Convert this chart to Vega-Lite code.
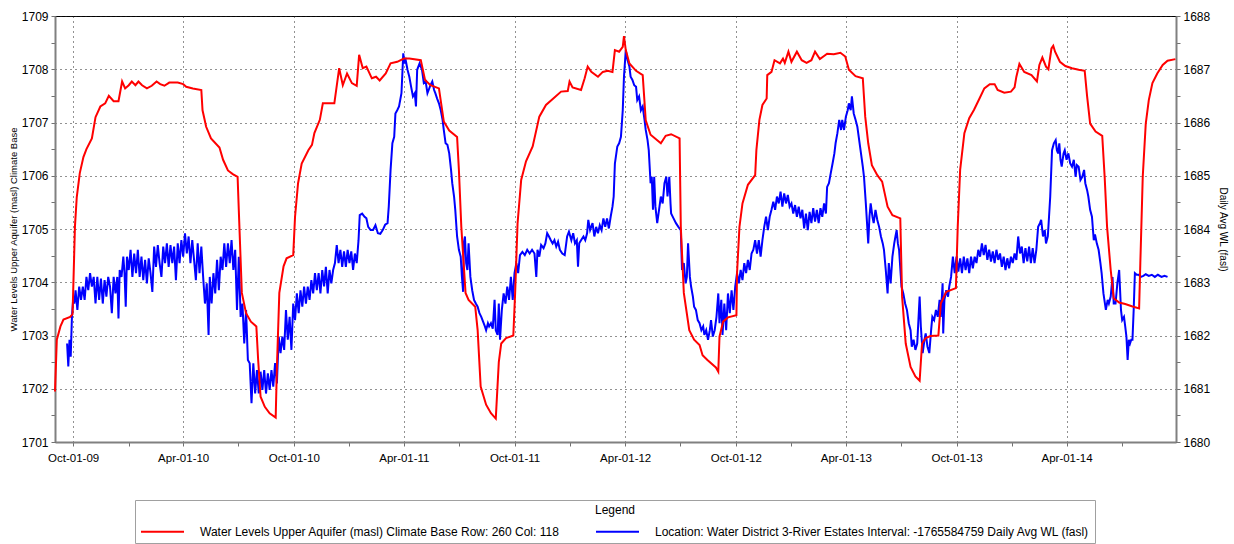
{
"$schema": "https://vega.github.io/schema/vega-lite/v6.json",
"width": 1121, "height": 426,
"autosize": {"type": "none"},
"padding": {"left": 55, "top": 16, "right": 58, "bottom": 102},
"background": "white",
"config": {
 "font": "Liberation Sans",
 "view": {"stroke": "#000", "strokeWidth": 1},
 "axis": {"labelColor": "#000", "labelFont": "Liberation Sans", "labelFontSize": 12, "tickColor": "#707070", "domainColor": "#808080", "domainWidth": 2, "gridColor": "#222", "gridDash": [1, 4], "gridWidth": 1, "titleFontWeight": "normal", "titleColor": "#000", "titleFont": "Liberation Sans", "tickSize": 4, "labelOverlap": false, "labelFlush": false}
},
"datasets": {
"red": [
{"d":"2009-09-01","v":1701.95},{"d":"2009-09-04","v":1702.92},{"d":"2009-09-10","v":1703.17},{"d":"2009-09-15","v":1703.30},{"d":"2009-09-26","v":1703.35},{"d":"2009-09-30","v":1703.40},{"d":"2009-10-01","v":1703.8},{"d":"2009-10-04","v":1705.05},{"d":"2009-10-07","v":1705.60},{"d":"2009-10-12","v":1706.05},{"d":"2009-10-18","v":1706.35},{"d":"2009-10-23","v":1706.50},{"d":"2009-11-01","v":1706.70},{"d":"2009-11-07","v":1707.10},{"d":"2009-11-15","v":1707.30},{"d":"2009-11-23","v":1707.36},{"d":"2009-11-29","v":1707.50},{"d":"2009-12-07","v":1707.40},{"d":"2009-12-15","v":1707.40},{"d":"2009-12-21","v":1707.77},{"d":"2009-12-26","v":1707.64},
{"d":"2010-01-01","v":1707.70},{"d":"2010-01-06","v":1707.77},{"d":"2010-01-12","v":1707.70},{"d":"2010-01-17","v":1707.77},{"d":"2010-01-23","v":1707.70},{"d":"2010-01-31","v":1707.64},{"d":"2010-02-08","v":1707.69},{"d":"2010-02-16","v":1707.77},{"d":"2010-02-22","v":1707.72},{"d":"2010-03-01","v":1707.69},{"d":"2010-03-09","v":1707.75},{"d":"2010-03-23","v":1707.75},{"d":"2010-04-01","v":1707.72},{"d":"2010-04-06","v":1707.67},{"d":"2010-04-17","v":1707.64},{"d":"2010-05-01","v":1707.61},{"d":"2010-05-03","v":1707.23},{"d":"2010-05-09","v":1706.92},{"d":"2010-05-17","v":1706.70},{"d":"2010-05-31","v":1706.53},{"d":"2010-06-06","v":1706.30},{"d":"2010-06-14","v":1706.10},{"d":"2010-06-22","v":1706.03},{"d":"2010-06-30","v":1705.98},{"d":"2010-07-02","v":1705.35},{"d":"2010-07-04","v":1704.73},{"d":"2010-07-07","v":1703.80},{"d":"2010-07-14","v":1703.42},{"d":"2010-07-22","v":1703.26},{"d":"2010-07-31","v":1703.17},{"d":"2010-08-03","v":1702.54},{"d":"2010-08-07","v":1701.85},{"d":"2010-08-14","v":1701.66},{"d":"2010-08-22","v":1701.54},{"d":"2010-09-01","v":1701.46},{"d":"2010-09-03","v":1702.4},{"d":"2010-09-07","v":1703.8},{"d":"2010-09-14","v":1704.30},{"d":"2010-09-19","v":1704.45},{"d":"2010-09-30","v":1704.51},{"d":"2010-10-03","v":1705.23},{"d":"2010-10-08","v":1705.86},{"d":"2010-10-14","v":1706.23},{"d":"2010-10-25","v":1706.48},{"d":"2010-10-31","v":1706.58},{"d":"2010-11-04","v":1706.80},{"d":"2010-11-13","v":1707.05},{"d":"2010-11-18","v":1707.36},{"d":"2010-12-07","v":1707.36},{"d":"2010-12-15","v":1708.02},{"d":"2010-12-21","v":1707.70},{"d":"2010-12-28","v":1707.92},
{"d":"2011-01-05","v":1707.74},{"d":"2011-01-13","v":1707.69},{"d":"2011-01-17","v":1708.27},{"d":"2011-01-23","v":1708.02},{"d":"2011-01-29","v":1708.05},{"d":"2011-02-07","v":1707.83},{"d":"2011-02-14","v":1707.86},{"d":"2011-02-20","v":1707.79},{"d":"2011-03-02","v":1707.92},{"d":"2011-03-10","v":1708.11},{"d":"2011-03-21","v":1708.14},{"d":"2011-04-01","v":1708.20},{"d":"2011-04-10","v":1708.20},{"d":"2011-04-29","v":1708.17},{"d":"2011-05-06","v":1707.80},{"d":"2011-05-15","v":1707.70},{"d":"2011-05-29","v":1707.64},{"d":"2011-06-06","v":1707.02},{"d":"2011-06-15","v":1706.85},{"d":"2011-06-28","v":1706.73},{"d":"2011-07-01","v":1706.11},{"d":"2011-07-05","v":1705.04},{"d":"2011-07-12","v":1703.80},{"d":"2011-07-17","v":1703.67},{"d":"2011-07-28","v":1703.54},{"d":"2011-08-01","v":1703.10},{"d":"2011-08-06","v":1702.04},{"d":"2011-08-15","v":1701.70},{"d":"2011-08-23","v":1701.54},{"d":"2011-08-31","v":1701.44},{"d":"2011-09-05","v":1702.5},{"d":"2011-09-09","v":1702.85},{"d":"2011-09-17","v":1702.95},{"d":"2011-09-29","v":1703.00},{"d":"2011-10-02","v":1703.80},{"d":"2011-10-06","v":1705.10},{"d":"2011-10-12","v":1705.92},{"d":"2011-10-20","v":1706.27},{"d":"2011-10-31","v":1706.55},{"d":"2011-11-11","v":1707.11},{"d":"2011-11-22","v":1707.33},{"d":"2011-12-06","v":1707.47},{"d":"2011-12-17","v":1707.58},{"d":"2011-12-28","v":1707.59},{"d":"2011-12-31","v":1707.77},
{"d":"2012-01-05","v":1707.66},{"d":"2012-01-19","v":1707.61},{"d":"2012-01-25","v":1707.83},{"d":"2012-01-30","v":1708.05},{"d":"2012-02-05","v":1707.95},{"d":"2012-02-16","v":1707.86},{"d":"2012-02-24","v":1707.95},{"d":"2012-03-03","v":1707.97},{"d":"2012-03-11","v":1707.95},{"d":"2012-03-15","v":1708.36},{"d":"2012-03-22","v":1708.33},{"d":"2012-03-28","v":1708.42},{"d":"2012-03-30","v":1708.62},{"d":"2012-04-02","v":1708.36},{"d":"2012-04-08","v":1708.11},{"d":"2012-04-19","v":1707.97},{"d":"2012-04-30","v":1707.89},{"d":"2012-05-05","v":1707.04},{"d":"2012-05-13","v":1706.77},{"d":"2012-05-30","v":1706.61},{"d":"2012-06-07","v":1706.75},{"d":"2012-06-16","v":1706.78},{"d":"2012-06-30","v":1706.70},{"d":"2012-07-02","v":1705.04},{"d":"2012-07-07","v":1703.80},{"d":"2012-07-16","v":1703.10},{"d":"2012-07-24","v":1702.92},{"d":"2012-08-02","v":1702.82},{"d":"2012-08-07","v":1702.63},{"d":"2012-08-15","v":1702.54},{"d":"2012-08-29","v":1702.40},{"d":"2012-09-02","v":1702.32},{"d":"2012-09-04","v":1702.98},{"d":"2012-09-10","v":1703.26},{"d":"2012-09-18","v":1703.34},{"d":"2012-10-02","v":1703.38},{"d":"2012-10-03","v":1704.17},{"d":"2012-10-07","v":1705.04},{"d":"2012-10-12","v":1705.48},{"d":"2012-10-21","v":1705.83},{"d":"2012-11-02","v":1706.01},{"d":"2012-11-04","v":1706.48},{"d":"2012-11-09","v":1707.05},{"d":"2012-11-14","v":1707.33},{"d":"2012-11-21","v":1707.45},{"d":"2012-11-22","v":1707.89},{"d":"2012-11-29","v":1707.95},{"d":"2012-12-04","v":1708.17},{"d":"2012-12-13","v":1708.11},{"d":"2012-12-18","v":1708.20},{"d":"2012-12-21","v":1708.12},{"d":"2012-12-27","v":1708.33},
{"d":"2013-01-01","v":1708.14},{"d":"2013-01-10","v":1708.33},{"d":"2013-01-18","v":1708.17},{"d":"2013-01-26","v":1708.12},{"d":"2013-02-03","v":1708.17},{"d":"2013-02-09","v":1708.33},{"d":"2013-02-17","v":1708.19},{"d":"2013-03-01","v":1708.29},{"d":"2013-03-12","v":1708.28},{"d":"2013-03-23","v":1708.31},{"d":"2013-03-31","v":1708.24},{"d":"2013-04-06","v":1707.99},{"d":"2013-04-17","v":1707.87},{"d":"2013-04-29","v":1707.83},{"d":"2013-05-03","v":1707.11},{"d":"2013-05-08","v":1706.61},{"d":"2013-05-14","v":1706.20},{"d":"2013-05-23","v":1706.01},{"d":"2013-05-31","v":1705.89},{"d":"2013-06-09","v":1705.42},{"d":"2013-06-17","v":1705.26},{"d":"2013-06-30","v":1705.20},{"d":"2013-07-03","v":1703.73},{"d":"2013-07-09","v":1702.85},{"d":"2013-07-17","v":1702.41},{"d":"2013-07-25","v":1702.23},{"d":"2013-08-01","v":1702.15},{"d":"2013-08-05","v":1702.85},{"d":"2013-08-11","v":1702.95},{"d":"2013-08-19","v":1702.99},{"d":"2013-09-01","v":1703.00},{"d":"2013-09-05","v":1703.60},{"d":"2013-09-14","v":1703.82},{"d":"2013-09-30","v":1703.89},{"d":"2013-10-03","v":1705.04},{"d":"2013-10-07","v":1706.11},{"d":"2013-10-14","v":1706.80},{"d":"2013-10-22","v":1707.08},{"d":"2013-10-30","v":1707.24},{"d":"2013-11-08","v":1707.45},{"d":"2013-11-16","v":1707.64},{"d":"2013-11-25","v":1707.72},{"d":"2013-12-03","v":1707.72},{"d":"2013-12-08","v":1707.61},{"d":"2013-12-19","v":1707.56},{"d":"2013-12-30","v":1707.58},
{"d":"2014-01-05","v":1707.66},{"d":"2014-01-08","v":1707.86},{"d":"2014-01-13","v":1708.10},{"d":"2014-01-21","v":1707.95},{"d":"2014-02-02","v":1707.89},{"d":"2014-02-11","v":1707.77},{"d":"2014-02-15","v":1708.08},{"d":"2014-02-20","v":1708.22},{"d":"2014-02-26","v":1708.05},{"d":"2014-03-02","v":1708.00},{"d":"2014-03-07","v":1708.39},{"d":"2014-03-10","v":1708.44},{"d":"2014-03-13","v":1708.33},{"d":"2014-03-21","v":1708.14},{"d":"2014-03-30","v":1708.06},{"d":"2014-04-10","v":1708.02},{"d":"2014-04-21","v":1707.99},{"d":"2014-05-01","v":1707.97},{"d":"2014-05-05","v":1707.49},{"d":"2014-05-10","v":1706.98},{"d":"2014-05-19","v":1706.83},{"d":"2014-05-30","v":1706.75},{"d":"2014-06-03","v":1705.98},{"d":"2014-06-07","v":1705.04},{"d":"2014-06-13","v":1704.23},{"d":"2014-06-18","v":1703.70},{"d":"2014-06-27","v":1703.62},{"d":"2014-07-07","v":1703.59},{"d":"2014-07-18","v":1703.55},{"d":"2014-07-30","v":1703.51},{"d":"2014-08-01","v":1704.36},{"d":"2014-08-05","v":1705.98},{"d":"2014-08-10","v":1706.98},{"d":"2014-08-15","v":1707.42},{"d":"2014-08-21","v":1707.74},{"d":"2014-08-29","v":1707.92},{"d":"2014-09-07","v":1708.08},{"d":"2014-09-15","v":1708.16},{"d":"2014-09-28","v":1708.19}
],
"blue": [
{"d":"2009-09-21","v":1681.85},{"d":"2009-09-23","v":1681.42},{"d":"2009-09-25","v":1681.92},{"d":"2009-09-27","v":1681.60},{"d":"2009-09-29","v":1682.35},{"d":"2009-10-01","v":1682.67},{"d":"2009-10-03","v":1682.60},{"d":"2009-10-05","v":1682.85},{"d":"2009-10-08","v":1682.48},{"d":"2009-10-11","v":1682.92},{"d":"2009-10-14","v":1682.67},{"d":"2009-10-17","v":1682.92},{"d":"2009-10-20","v":1682.67},{"d":"2009-10-23","v":1683.10},{"d":"2009-10-26","v":1682.85},{"d":"2009-10-29","v":1683.17},{"d":"2009-11-01","v":1682.92},{"d":"2009-11-04","v":1683.10},{"d":"2009-11-07","v":1682.60},{"d":"2009-11-10","v":1683.10},{"d":"2009-11-13","v":1682.67},{"d":"2009-11-16","v":1683.07},{"d":"2009-11-19","v":1682.60},{"d":"2009-11-22","v":1683.04},{"d":"2009-11-25","v":1682.73},{"d":"2009-11-28","v":1683.10},{"d":"2009-12-01","v":1682.92},{"d":"2009-12-04","v":1682.42},{"d":"2009-12-07","v":1683.10},{"d":"2009-12-10","v":1682.79},{"d":"2009-12-13","v":1683.10},{"d":"2009-12-15","v":1682.32},{"d":"2009-12-17","v":1683.23},{"d":"2009-12-20","v":1683.10},{"d":"2009-12-23","v":1683.48},{"d":"2009-12-25","v":1683.17},{"d":"2009-12-27","v":1682.54},{"d":"2009-12-29","v":1683.48},
{"d":"2010-01-01","v":1683.23},{"d":"2010-01-04","v":1683.61},{"d":"2010-01-07","v":1683.10},{"d":"2010-01-10","v":1683.54},{"d":"2010-01-13","v":1683.17},{"d":"2010-01-16","v":1683.61},{"d":"2010-01-19","v":1683.10},{"d":"2010-01-22","v":1683.48},{"d":"2010-01-25","v":1683.04},{"d":"2010-01-28","v":1683.42},{"d":"2010-01-31","v":1682.98},{"d":"2010-02-03","v":1683.45},{"d":"2010-02-06","v":1683.17},{"d":"2010-02-09","v":1682.82},{"d":"2010-02-12","v":1683.67},{"d":"2010-02-15","v":1683.29},{"d":"2010-02-18","v":1683.70},{"d":"2010-02-21","v":1683.36},{"d":"2010-02-24","v":1683.10},{"d":"2010-02-27","v":1683.67},{"d":"2010-03-02","v":1683.36},{"d":"2010-03-05","v":1683.73},{"d":"2010-03-08","v":1683.29},{"d":"2010-03-11","v":1683.70},{"d":"2010-03-14","v":1683.36},{"d":"2010-03-17","v":1683.67},{"d":"2010-03-20","v":1683.04},{"d":"2010-03-23","v":1683.73},{"d":"2010-03-26","v":1683.36},{"d":"2010-03-29","v":1683.79},{"d":"2010-04-01","v":1683.48},{"d":"2010-04-04","v":1683.92},{"d":"2010-04-07","v":1683.54},{"d":"2010-04-10","v":1683.86},{"d":"2010-04-13","v":1683.36},{"d":"2010-04-16","v":1683.79},{"d":"2010-04-19","v":1683.42},{"d":"2010-04-22","v":1683.04},{"d":"2010-04-25","v":1683.73},{"d":"2010-04-28","v":1683.17},{"d":"2010-05-01","v":1683.67},{"d":"2010-05-04","v":1683.10},{"d":"2010-05-07","v":1682.60},{"d":"2010-05-10","v":1682.98},{"d":"2010-05-13","v":1682.01},{"d":"2010-05-15","v":1683.10},{"d":"2010-05-18","v":1682.60},{"d":"2010-05-21","v":1683.17},{"d":"2010-05-24","v":1682.79},{"d":"2010-05-27","v":1683.42},{"d":"2010-05-30","v":1682.85},{"d":"2010-06-02","v":1683.48},{"d":"2010-06-05","v":1683.23},{"d":"2010-06-08","v":1683.73},{"d":"2010-06-11","v":1683.29},{"d":"2010-06-14","v":1683.73},{"d":"2010-06-17","v":1683.36},{"d":"2010-06-20","v":1683.79},{"d":"2010-06-23","v":1683.23},{"d":"2010-06-26","v":1683.61},{"d":"2010-06-29","v":1682.48},{"d":"2010-07-02","v":1683.48},{"d":"2010-07-05","v":1682.35},{"d":"2010-07-08","v":1682.60},{"d":"2010-07-11","v":1681.85},{"d":"2010-07-14","v":1682.48},{"d":"2010-07-17","v":1681.54},{"d":"2010-07-20","v":1681.48},{"d":"2010-07-23","v":1680.73},{"d":"2010-07-26","v":1681.48},{"d":"2010-07-29","v":1680.91},{"d":"2010-08-01","v":1681.35},{"d":"2010-08-04","v":1680.91},{"d":"2010-08-07","v":1681.32},{"d":"2010-08-10","v":1680.98},{"d":"2010-08-13","v":1681.35},{"d":"2010-08-16","v":1680.91},{"d":"2010-08-19","v":1681.29},{"d":"2010-08-22","v":1680.98},{"d":"2010-08-25","v":1681.35},{"d":"2010-08-28","v":1681.04},{"d":"2010-08-31","v":1681.48},{"d":"2010-09-03","v":1681.10},{"d":"2010-09-06","v":1681.98},{"d":"2010-09-09","v":1681.67},{"d":"2010-09-12","v":1681.98},{"d":"2010-09-15","v":1681.73},{"d":"2010-09-18","v":1682.48},{"d":"2010-09-21","v":1681.92},{"d":"2010-09-24","v":1682.35},{"d":"2010-09-27","v":1681.73},{"d":"2010-09-30","v":1682.60},{"d":"2010-10-03","v":1682.29},{"d":"2010-10-06","v":1682.79},{"d":"2010-10-09","v":1682.42},{"d":"2010-10-12","v":1682.85},{"d":"2010-10-15","v":1682.54},{"d":"2010-10-18","v":1682.92},{"d":"2010-10-21","v":1682.60},{"d":"2010-10-24","v":1682.92},{"d":"2010-10-27","v":1682.67},{"d":"2010-10-30","v":1683.04},{"d":"2010-11-02","v":1682.79},{"d":"2010-11-05","v":1683.17},{"d":"2010-11-08","v":1682.85},{"d":"2010-11-11","v":1683.17},{"d":"2010-11-14","v":1682.79},{"d":"2010-11-17","v":1683.23},{"d":"2010-11-20","v":1682.92},{"d":"2010-11-23","v":1683.29},{"d":"2010-11-26","v":1682.79},{"d":"2010-11-29","v":1683.23},{"d":"2010-12-02","v":1682.98},{"d":"2010-12-05","v":1683.23},{"d":"2010-12-08","v":1683.36},{"d":"2010-12-11","v":1683.70},{"d":"2010-12-14","v":1683.36},{"d":"2010-12-17","v":1683.61},{"d":"2010-12-20","v":1683.29},{"d":"2010-12-23","v":1683.58},{"d":"2010-12-26","v":1683.29},{"d":"2010-12-29","v":1683.61},
{"d":"2011-01-01","v":1683.36},{"d":"2011-01-04","v":1683.58},{"d":"2011-01-07","v":1683.23},{"d":"2011-01-10","v":1683.54},{"d":"2011-01-13","v":1683.36},{"d":"2011-01-16","v":1683.79},{"d":"2011-01-18","v":1684.26},{"d":"2011-01-22","v":1684.29},{"d":"2011-01-26","v":1684.23},{"d":"2011-01-29","v":1684.20},{"d":"2011-02-01","v":1684.04},{"d":"2011-02-05","v":1683.98},{"d":"2011-02-09","v":1683.98},{"d":"2011-02-13","v":1684.07},{"d":"2011-02-17","v":1683.92},{"d":"2011-02-21","v":1683.91},{"d":"2011-02-25","v":1683.98},{"d":"2011-03-01","v":1684.08},{"d":"2011-03-05","v":1684.11},{"d":"2011-03-07","v":1684.42},{"d":"2011-03-10","v":1685.11},{"d":"2011-03-13","v":1685.61},{"d":"2011-03-16","v":1685.73},{"d":"2011-03-18","v":1686.17},{"d":"2011-03-21","v":1686.23},{"d":"2011-03-24","v":1686.30},{"d":"2011-03-28","v":1686.55},{"d":"2011-03-31","v":1687.30},{"d":"2011-04-02","v":1687.11},{"d":"2011-04-04","v":1687.17},{"d":"2011-04-07","v":1686.99},{"d":"2011-04-10","v":1686.86},{"d":"2011-04-13","v":1686.67},{"d":"2011-04-16","v":1686.49},{"d":"2011-04-19","v":1686.55},{"d":"2011-04-21","v":1686.30},{"d":"2011-04-23","v":1686.99},{"d":"2011-04-27","v":1687.11},{"d":"2011-05-01","v":1686.99},{"d":"2011-05-04","v":1686.74},{"d":"2011-05-07","v":1686.77},{"d":"2011-05-10","v":1686.55},{"d":"2011-05-12","v":1686.61},{"d":"2011-05-15","v":1686.70},{"d":"2011-05-18","v":1686.77},{"d":"2011-05-21","v":1686.61},{"d":"2011-05-23","v":1686.55},{"d":"2011-05-26","v":1686.45},{"d":"2011-05-29","v":1686.36},{"d":"2011-06-01","v":1686.23},{"d":"2011-06-04","v":1686.05},{"d":"2011-06-06","v":1685.86},{"d":"2011-06-09","v":1685.61},{"d":"2011-06-12","v":1685.58},{"d":"2011-06-15","v":1685.42},{"d":"2011-06-18","v":1685.11},{"d":"2011-06-20","v":1684.86},{"d":"2011-06-23","v":1684.61},{"d":"2011-06-25","v":1684.36},{"d":"2011-06-28","v":1683.86},{"d":"2011-07-01","v":1683.61},{"d":"2011-07-04","v":1683.48},{"d":"2011-07-06","v":1683.10},{"d":"2011-07-08","v":1682.82},{"d":"2011-07-09","v":1683.73},{"d":"2011-07-11","v":1683.86},{"d":"2011-07-13","v":1683.36},{"d":"2011-07-15","v":1683.23},{"d":"2011-07-17","v":1683.73},{"d":"2011-07-20","v":1683.10},{"d":"2011-07-23","v":1682.85},{"d":"2011-07-26","v":1682.67},{"d":"2011-07-29","v":1682.60},{"d":"2011-08-01","v":1682.54},{"d":"2011-08-04","v":1682.42},{"d":"2011-08-07","v":1682.35},{"d":"2011-08-10","v":1682.26},{"d":"2011-08-13","v":1682.17},{"d":"2011-08-15","v":1682.10},{"d":"2011-08-18","v":1682.23},{"d":"2011-08-20","v":1682.17},{"d":"2011-08-23","v":1682.23},{"d":"2011-08-26","v":1682.13},{"d":"2011-08-29","v":1682.67},{"d":"2011-08-31","v":1682.10},{"d":"2011-09-03","v":1682.01},{"d":"2011-09-05","v":1682.60},{"d":"2011-09-07","v":1681.92},{"d":"2011-09-10","v":1682.48},{"d":"2011-09-13","v":1682.79},{"d":"2011-09-16","v":1682.60},{"d":"2011-09-19","v":1682.92},{"d":"2011-09-22","v":1682.67},{"d":"2011-09-25","v":1683.10},{"d":"2011-09-28","v":1682.67},{"d":"2011-10-01","v":1683.17},{"d":"2011-10-04","v":1683.36},{"d":"2011-10-07","v":1683.17},{"d":"2011-10-10","v":1683.51},{"d":"2011-10-14","v":1683.57},{"d":"2011-10-18","v":1683.51},{"d":"2011-10-22","v":1683.61},{"d":"2011-10-26","v":1683.54},{"d":"2011-10-30","v":1683.61},{"d":"2011-11-03","v":1683.54},{"d":"2011-11-06","v":1683.10},{"d":"2011-11-08","v":1683.61},{"d":"2011-11-11","v":1683.48},{"d":"2011-11-14","v":1683.70},{"d":"2011-11-18","v":1683.64},{"d":"2011-11-21","v":1683.73},{"d":"2011-11-24","v":1683.92},{"d":"2011-11-27","v":1683.86},{"d":"2011-11-30","v":1683.79},{"d":"2011-12-03","v":1683.73},{"d":"2011-12-06","v":1683.79},{"d":"2011-12-09","v":1683.67},{"d":"2011-12-12","v":1683.76},{"d":"2011-12-15","v":1683.61},{"d":"2011-12-19","v":1683.54},{"d":"2011-12-23","v":1683.51},{"d":"2011-12-27","v":1683.86},{"d":"2011-12-30","v":1683.95},
{"d":"2012-01-03","v":1683.79},{"d":"2012-01-06","v":1683.92},{"d":"2012-01-09","v":1683.73},{"d":"2012-01-12","v":1683.79},{"d":"2012-01-14","v":1683.29},{"d":"2012-01-16","v":1683.73},{"d":"2012-01-19","v":1683.79},{"d":"2012-01-23","v":1683.86},{"d":"2012-01-26","v":1683.79},{"d":"2012-01-29","v":1683.92},{"d":"2012-01-31","v":1684.17},{"d":"2012-02-03","v":1683.98},{"d":"2012-02-07","v":1684.11},{"d":"2012-02-10","v":1683.86},{"d":"2012-02-13","v":1684.04},{"d":"2012-02-16","v":1683.92},{"d":"2012-02-19","v":1684.07},{"d":"2012-02-22","v":1683.98},{"d":"2012-02-25","v":1684.20},{"d":"2012-02-28","v":1684.04},{"d":"2012-03-02","v":1684.20},{"d":"2012-03-05","v":1684.01},{"d":"2012-03-08","v":1684.23},{"d":"2012-03-11","v":1684.42},{"d":"2012-03-13","v":1684.61},{"d":"2012-03-15","v":1685.23},{"d":"2012-03-19","v":1685.55},{"d":"2012-03-22","v":1685.61},{"d":"2012-03-25","v":1685.73},{"d":"2012-03-28","v":1686.23},{"d":"2012-03-30","v":1686.86},{"d":"2012-04-02","v":1687.36},{"d":"2012-04-05","v":1687.17},{"d":"2012-04-08","v":1687.05},{"d":"2012-04-10","v":1686.86},{"d":"2012-04-13","v":1686.80},{"d":"2012-04-16","v":1686.70},{"d":"2012-04-19","v":1686.67},{"d":"2012-04-21","v":1686.42},{"d":"2012-04-24","v":1686.49},{"d":"2012-04-27","v":1686.23},{"d":"2012-04-30","v":1686.30},{"d":"2012-05-03","v":1686.05},{"d":"2012-05-05","v":1685.86},{"d":"2012-05-08","v":1685.67},{"d":"2012-05-10","v":1685.48},{"d":"2012-05-13","v":1684.86},{"d":"2012-05-15","v":1684.98},{"d":"2012-05-17","v":1684.36},{"d":"2012-05-19","v":1684.98},{"d":"2012-05-21","v":1684.42},{"d":"2012-05-24","v":1684.11},{"d":"2012-05-27","v":1684.36},{"d":"2012-05-30","v":1684.61},{"d":"2012-06-02","v":1684.48},{"d":"2012-06-05","v":1684.86},{"d":"2012-06-08","v":1684.98},{"d":"2012-06-10","v":1684.61},{"d":"2012-06-13","v":1684.98},{"d":"2012-06-15","v":1684.48},{"d":"2012-06-16","v":1684.29},{"d":"2012-06-20","v":1684.20},{"d":"2012-06-24","v":1684.11},{"d":"2012-06-28","v":1684.04},{"d":"2012-07-02","v":1683.98},{"d":"2012-07-04","v":1683.23},{"d":"2012-07-07","v":1683.36},{"d":"2012-07-10","v":1682.98},{"d":"2012-07-12","v":1683.10},{"d":"2012-07-14","v":1683.73},{"d":"2012-07-17","v":1683.10},{"d":"2012-07-19","v":1682.92},{"d":"2012-07-22","v":1682.73},{"d":"2012-07-24","v":1682.54},{"d":"2012-07-27","v":1682.48},{"d":"2012-07-30","v":1682.29},{"d":"2012-08-02","v":1682.23},{"d":"2012-08-05","v":1682.10},{"d":"2012-08-08","v":1682.17},{"d":"2012-08-10","v":1682.01},{"d":"2012-08-13","v":1682.10},{"d":"2012-08-16","v":1681.92},{"d":"2012-08-19","v":1682.10},{"d":"2012-08-21","v":1682.29},{"d":"2012-08-24","v":1681.98},{"d":"2012-08-27","v":1682.10},{"d":"2012-08-30","v":1682.35},{"d":"2012-09-02","v":1682.79},{"d":"2012-09-04","v":1682.23},{"d":"2012-09-07","v":1682.67},{"d":"2012-09-09","v":1682.01},{"d":"2012-09-12","v":1682.60},{"d":"2012-09-15","v":1682.10},{"d":"2012-09-18","v":1682.79},{"d":"2012-09-21","v":1682.42},{"d":"2012-09-24","v":1682.85},{"d":"2012-09-27","v":1682.48},{"d":"2012-09-30","v":1682.92},{"d":"2012-10-03","v":1683.17},{"d":"2012-10-06","v":1682.98},{"d":"2012-10-09","v":1683.23},{"d":"2012-10-12","v":1683.04},{"d":"2012-10-15","v":1683.36},{"d":"2012-10-18","v":1683.17},{"d":"2012-10-21","v":1683.42},{"d":"2012-10-24","v":1683.23},{"d":"2012-10-27","v":1683.54},{"d":"2012-10-30","v":1683.61},{"d":"2012-11-02","v":1683.79},{"d":"2012-11-05","v":1683.54},{"d":"2012-11-08","v":1683.79},{"d":"2012-11-11","v":1683.48},{"d":"2012-11-14","v":1683.79},{"d":"2012-11-17","v":1684.04},{"d":"2012-11-20","v":1684.23},{"d":"2012-11-23","v":1683.98},{"d":"2012-11-26","v":1684.23},{"d":"2012-11-29","v":1684.36},{"d":"2012-12-02","v":1684.51},{"d":"2012-12-05","v":1684.36},{"d":"2012-12-08","v":1684.61},{"d":"2012-12-11","v":1684.48},{"d":"2012-12-14","v":1684.70},{"d":"2012-12-17","v":1684.42},{"d":"2012-12-20","v":1684.67},{"d":"2012-12-23","v":1684.48},{"d":"2012-12-26","v":1684.64},{"d":"2012-12-29","v":1684.42},
{"d":"2013-01-01","v":1684.48},{"d":"2013-01-04","v":1684.29},{"d":"2013-01-07","v":1684.45},{"d":"2013-01-10","v":1684.23},{"d":"2013-01-13","v":1684.42},{"d":"2013-01-16","v":1684.20},{"d":"2013-01-19","v":1684.36},{"d":"2013-01-22","v":1684.01},{"d":"2013-01-25","v":1684.29},{"d":"2013-01-28","v":1683.98},{"d":"2013-01-31","v":1684.32},{"d":"2013-02-03","v":1684.11},{"d":"2013-02-06","v":1684.39},{"d":"2013-02-09","v":1684.14},{"d":"2013-02-12","v":1684.36},{"d":"2013-02-15","v":1684.11},{"d":"2013-02-18","v":1684.39},{"d":"2013-02-21","v":1684.23},{"d":"2013-02-24","v":1684.48},{"d":"2013-02-27","v":1684.29},{"d":"2013-03-01","v":1684.79},{"d":"2013-03-04","v":1684.86},{"d":"2013-03-07","v":1685.05},{"d":"2013-03-10","v":1685.23},{"d":"2013-03-13","v":1685.42},{"d":"2013-03-15","v":1685.61},{"d":"2013-03-18","v":1685.80},{"d":"2013-03-21","v":1686.05},{"d":"2013-03-24","v":1685.86},{"d":"2013-03-26","v":1686.05},{"d":"2013-03-29","v":1685.86},{"d":"2013-04-01","v":1686.11},{"d":"2013-04-04","v":1686.23},{"d":"2013-04-06","v":1686.36},{"d":"2013-04-09","v":1686.23},{"d":"2013-04-11","v":1686.49},{"d":"2013-04-14","v":1686.17},{"d":"2013-04-17","v":1686.05},{"d":"2013-04-20","v":1685.92},{"d":"2013-04-23","v":1685.67},{"d":"2013-04-26","v":1685.42},{"d":"2013-04-29","v":1685.17},{"d":"2013-05-01","v":1684.98},{"d":"2013-05-04","v":1684.48},{"d":"2013-05-06","v":1684.11},{"d":"2013-05-08","v":1683.73},{"d":"2013-05-10","v":1684.23},{"d":"2013-05-12","v":1684.48},{"d":"2013-05-15","v":1684.23},{"d":"2013-05-17","v":1684.11},{"d":"2013-05-20","v":1684.36},{"d":"2013-05-23","v":1684.17},{"d":"2013-05-26","v":1684.04},{"d":"2013-05-29","v":1683.86},{"d":"2013-06-01","v":1683.73},{"d":"2013-06-03","v":1683.61},{"d":"2013-06-06","v":1683.23},{"d":"2013-06-09","v":1682.79},{"d":"2013-06-11","v":1683.36},{"d":"2013-06-14","v":1682.98},{"d":"2013-06-17","v":1683.48},{"d":"2013-06-20","v":1683.73},{"d":"2013-06-22","v":1683.86},{"d":"2013-06-24","v":1683.98},{"d":"2013-06-26","v":1683.73},{"d":"2013-06-28","v":1683.61},{"d":"2013-07-02","v":1682.92},{"d":"2013-07-05","v":1682.79},{"d":"2013-07-08","v":1682.60},{"d":"2013-07-11","v":1682.48},{"d":"2013-07-14","v":1682.23},{"d":"2013-07-17","v":1682.10},{"d":"2013-07-19","v":1681.79},{"d":"2013-07-22","v":1681.92},{"d":"2013-07-25","v":1681.73},{"d":"2013-07-28","v":1681.85},{"d":"2013-08-01","v":1682.73},{"d":"2013-08-03","v":1682.17},{"d":"2013-08-06","v":1681.67},{"d":"2013-08-09","v":1681.92},{"d":"2013-08-11","v":1682.04},{"d":"2013-08-14","v":1681.79},{"d":"2013-08-17","v":1681.67},{"d":"2013-08-20","v":1682.10},{"d":"2013-08-22","v":1682.35},{"d":"2013-08-25","v":1682.29},{"d":"2013-08-28","v":1682.48},{"d":"2013-08-31","v":1682.35},{"d":"2013-09-03","v":1682.67},{"d":"2013-09-05","v":1682.35},{"d":"2013-09-08","v":1682.98},{"d":"2013-09-09","v":1682.04},{"d":"2013-09-11","v":1682.67},{"d":"2013-09-14","v":1682.85},{"d":"2013-09-17","v":1682.73},{"d":"2013-09-19","v":1682.92},{"d":"2013-09-22","v":1683.10},{"d":"2013-09-25","v":1683.48},{"d":"2013-09-28","v":1683.17},{"d":"2013-10-01","v":1683.48},{"d":"2013-10-04","v":1683.20},{"d":"2013-10-07","v":1683.45},{"d":"2013-10-10","v":1683.17},{"d":"2013-10-13","v":1683.48},{"d":"2013-10-16","v":1683.23},{"d":"2013-10-19","v":1683.45},{"d":"2013-10-22","v":1683.17},{"d":"2013-10-25","v":1683.48},{"d":"2013-10-28","v":1683.26},{"d":"2013-10-31","v":1683.48},{"d":"2013-11-03","v":1683.36},{"d":"2013-11-06","v":1683.61},{"d":"2013-11-09","v":1683.48},{"d":"2013-11-12","v":1683.73},{"d":"2013-11-15","v":1683.51},{"d":"2013-11-18","v":1683.70},{"d":"2013-11-21","v":1683.42},{"d":"2013-11-24","v":1683.61},{"d":"2013-11-27","v":1683.39},{"d":"2013-11-30","v":1683.58},{"d":"2013-12-03","v":1683.36},{"d":"2013-12-06","v":1683.61},{"d":"2013-12-09","v":1683.42},{"d":"2013-12-12","v":1683.54},{"d":"2013-12-15","v":1683.29},{"d":"2013-12-18","v":1683.48},{"d":"2013-12-21","v":1683.23},{"d":"2013-12-24","v":1683.45},{"d":"2013-12-27","v":1683.26},{"d":"2013-12-30","v":1683.48},
{"d":"2014-01-02","v":1683.36},{"d":"2014-01-05","v":1683.54},{"d":"2014-01-08","v":1683.42},{"d":"2014-01-11","v":1683.86},{"d":"2014-01-14","v":1683.54},{"d":"2014-01-17","v":1683.67},{"d":"2014-01-20","v":1683.36},{"d":"2014-01-23","v":1683.64},{"d":"2014-01-26","v":1683.39},{"d":"2014-01-29","v":1683.67},{"d":"2014-02-01","v":1683.36},{"d":"2014-02-04","v":1683.64},{"d":"2014-02-07","v":1683.36},{"d":"2014-02-10","v":1683.61},{"d":"2014-02-13","v":1684.04},{"d":"2014-02-16","v":1684.11},{"d":"2014-02-18","v":1684.17},{"d":"2014-02-21","v":1683.86},{"d":"2014-02-24","v":1683.98},{"d":"2014-02-26","v":1683.73},{"d":"2014-03-01","v":1683.86},{"d":"2014-03-03","v":1684.23},{"d":"2014-03-05","v":1684.61},{"d":"2014-03-08","v":1685.48},{"d":"2014-03-11","v":1685.61},{"d":"2014-03-14","v":1685.67},{"d":"2014-03-16","v":1685.48},{"d":"2014-03-18","v":1685.42},{"d":"2014-03-20","v":1685.61},{"d":"2014-03-22","v":1685.30},{"d":"2014-03-24","v":1685.17},{"d":"2014-03-27","v":1685.42},{"d":"2014-03-29","v":1685.48},{"d":"2014-04-01","v":1685.30},{"d":"2014-04-04","v":1685.42},{"d":"2014-04-07","v":1685.23},{"d":"2014-04-10","v":1685.17},{"d":"2014-04-13","v":1685.30},{"d":"2014-04-16","v":1684.98},{"d":"2014-04-18","v":1685.20},{"d":"2014-04-21","v":1685.17},{"d":"2014-04-24","v":1684.92},{"d":"2014-04-27","v":1684.98},{"d":"2014-04-30","v":1685.11},{"d":"2014-05-02","v":1684.86},{"d":"2014-05-05","v":1684.73},{"d":"2014-05-07","v":1684.61},{"d":"2014-05-10","v":1684.36},{"d":"2014-05-13","v":1684.23},{"d":"2014-05-16","v":1683.79},{"d":"2014-05-18","v":1683.90},{"d":"2014-05-21","v":1683.73},{"d":"2014-05-24","v":1683.61},{"d":"2014-05-27","v":1683.36},{"d":"2014-05-29","v":1683.17},{"d":"2014-06-01","v":1682.79},{"d":"2014-06-05","v":1682.48},{"d":"2014-06-08","v":1682.67},{"d":"2014-06-10","v":1682.60},{"d":"2014-06-13","v":1682.73},{"d":"2014-06-16","v":1683.10},{"d":"2014-06-18","v":1682.60},{"d":"2014-06-21","v":1682.60},{"d":"2014-06-24","v":1682.98},{"d":"2014-06-27","v":1683.23},{"d":"2014-06-30","v":1682.48},{"d":"2014-07-02","v":1682.29},{"d":"2014-07-05","v":1682.35},{"d":"2014-07-07","v":1682.17},{"d":"2014-07-09","v":1681.98},{"d":"2014-07-11","v":1681.54},{"d":"2014-07-13","v":1681.92},{"d":"2014-07-15","v":1681.85},{"d":"2014-07-17","v":1681.92},{"d":"2014-07-19","v":1681.92},{"d":"2014-07-21","v":1682.48},{"d":"2014-07-23","v":1683.17},{"d":"2014-07-26","v":1683.14},{"d":"2014-07-29","v":1683.14},{"d":"2014-08-02","v":1683.10},{"d":"2014-08-06","v":1683.12},{"d":"2014-08-10","v":1683.15},{"d":"2014-08-15","v":1683.12},{"d":"2014-08-20","v":1683.14},{"d":"2014-08-25","v":1683.10},{"d":"2014-08-30","v":1683.14},{"d":"2014-09-05","v":1683.10},{"d":"2014-09-10","v":1683.12},{"d":"2014-09-15","v":1683.10}
]
},
"encoding": {
 "x": {"field": "d", "type": "temporal",
  "scale": {"type": "utc", "domain": [{"year": 2009, "month": 9, "date": 1, "utc": true}, {"year": 2014, "month": 9, "date": 29, "utc": true}]},
  "axis": {"title": null, "format": "%b-%d-%y", "labelFontSize": 11.5, "labelPadding": 6, "grid": true,
   "values": [{"year":2009,"month":10,"date":1,"utc":true},{"year":2010,"month":1,"date":1,"utc":true},{"year":2010,"month":4,"date":1,"utc":true},{"year":2010,"month":7,"date":1,"utc":true},{"year":2010,"month":10,"date":1,"utc":true},{"year":2011,"month":1,"date":1,"utc":true},{"year":2011,"month":4,"date":1,"utc":true},{"year":2011,"month":7,"date":1,"utc":true},{"year":2011,"month":10,"date":1,"utc":true},{"year":2012,"month":1,"date":1,"utc":true},{"year":2012,"month":4,"date":1,"utc":true},{"year":2012,"month":7,"date":1,"utc":true},{"year":2012,"month":10,"date":1,"utc":true},{"year":2013,"month":1,"date":1,"utc":true},{"year":2013,"month":4,"date":1,"utc":true},{"year":2013,"month":7,"date":1,"utc":true},{"year":2013,"month":10,"date":1,"utc":true},{"year":2014,"month":1,"date":1,"utc":true},{"year":2014,"month":4,"date":1,"utc":true},{"year":2014,"month":7,"date":1,"utc":true}],
   "labelExpr": "(utcmonth(datum.value)==0 || utcmonth(datum.value)==6) ? '' : datum.label",
   "gridOpacity": {"condition": {"test": "utcmonth(datum.value)==0 || utcmonth(datum.value)==6", "value": 0}, "value": 1}
  }
 }
},
"layer": [
 {"data": {"name": "blue"},
  "mark": {"type": "line", "strokeWidth": 2},
  "encoding": {
   "y": {"field": "v", "type": "quantitative", "scale": {"domain": [1680, 1688], "nice": false, "zero": false},
    "axis": {"orient": "right", "title": "Daily Avg WL (fasl)", "titleFontSize": 10, "titlePadding": 8, "grid": false, "labelPadding": 3,
     "values": [1680,1680.5,1681,1681.5,1682,1682.5,1683,1683.5,1684,1684.5,1685,1685.5,1686,1686.5,1687,1687.5,1688],
     "labelExpr": "datum.value % 1 == 0 ? format(datum.value, 'd') : ''"}},
   "color": {"datum": "Location: Water District 3-River Estates Interval: -1765584759 Daily Avg WL (fasl)", "type": "nominal",
    "scale": {"domain": ["Water Levels Upper Aquifer (masl) Climate Base Row: 260 Col: 118", "Location: Water District 3-River Estates Interval: -1765584759 Daily Avg WL (fasl)"], "range": ["#ff0000", "#0000ff"]},
    "legend": {"orient": "none", "legendX": 80, "legendY": 484, "direction": "horizontal", "title": "Legend", "titleAnchor": "middle", "titleFontSize": 12, "titleFontWeight": "normal", "titleFont": "Liberation Sans", "titlePadding": -8, "labelFontSize": 12, "labelFont": "Liberation Sans", "labelLimit": 700, "symbolType": "stroke", "symbolSize": 1849, "symbolStrokeWidth": 2, "labelOffset": 15, "columnPadding": 32, "strokeColor": "#a0a0a0", "fillColor": "#ffffff", "padding": 5}}
  }
 },
 {"data": {"name": "red"},
  "mark": {"type": "line", "strokeWidth": 2},
  "encoding": {
   "y": {"field": "v", "type": "quantitative", "scale": {"domain": [1701, 1709], "nice": false, "zero": false},
    "axis": {"orient": "left", "title": "Water Levels Upper Aquifer (masl) Climate Base", "titleFontSize": 9.5, "titlePadding": 3, "grid": true, "labelPadding": 3,
     "values": [1701,1701.5,1702,1702.5,1703,1703.5,1704,1704.5,1705,1705.5,1706,1706.5,1707,1707.5,1708,1708.5,1709],
     "labelExpr": "datum.value % 1 == 0 ? format(datum.value, 'd') : ''",
     "gridOpacity": {"condition": {"test": "datum.value % 1 != 0", "value": 0}, "value": 1}}},
   "color": {"datum": "Water Levels Upper Aquifer (masl) Climate Base Row: 260 Col: 118", "type": "nominal"}
  }
 }
],
"resolve": {"scale": {"y": "independent"}}
}
